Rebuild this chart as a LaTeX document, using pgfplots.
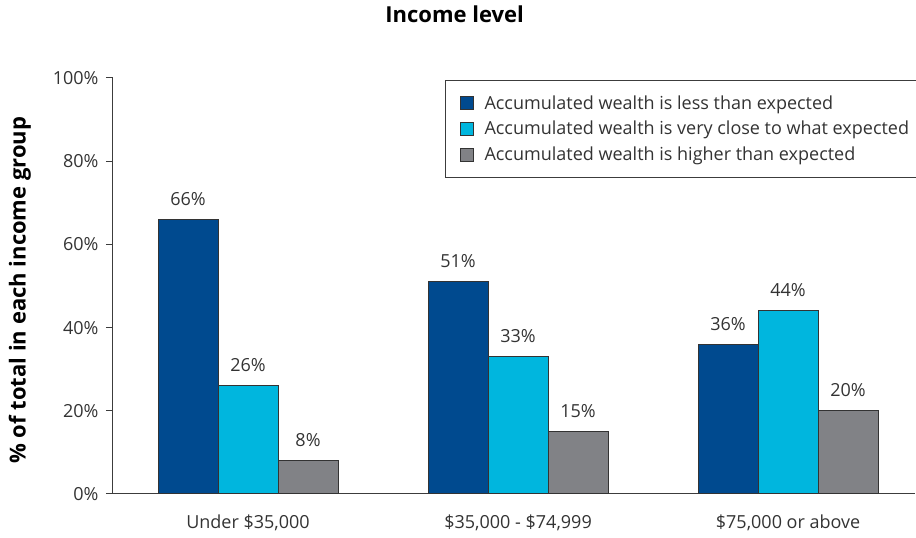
\documentclass[border=0pt]{standalone}
\usepackage{pgfplots}
\pgfplotsset{compat=1.18}
\usepackage{fontspec}
\setmainfont{Open Sans}
\definecolor{dblue}{RGB}{0,74,143}
\definecolor{cyanb}{RGB}{0,182,222}
\definecolor{greyb}{RGB}{129,130,134}
\definecolor{axgrey}{RGB}{60,60,60}
\begin{document}
\begin{tikzpicture}
\path[use as bounding box] (-113pt,-44pt) rectangle (803pt,494pt);
\begin{axis}[
  scale only axis,
  width=802pt, height=416pt,
  xmin=-0.5, xmax=2.47,
  ymin=0, ymax=100,
  axis x line=bottom, axis y line=left,
  axis line style={-, draw=axgrey, line width=1pt},
  ybar=0pt, bar width=0.2222,
  xtick={0,1,2},
  xticklabels={{Under \$35,000}, {\$35,000 - \$74,999}, {\$75,000 or above}},
  x tick style={draw=none},
  extra x ticks={-0.5,0.5,1.5},
  extra x tick labels={},
  extra x tick style={tick style={draw=axgrey, line width=1pt}, major tick length=7pt, tick align=outside},
  ytick={0,20,40,60,80,100},
  yticklabel={\pgfmathprintnumber{\tick}\%},
  y tick style={draw=axgrey, line width=1pt},
  tick align=outside,
  major tick length=7pt,
  /pgf/number format/assume math mode=true,
  ticklabel style={font=\fontsize{18}{21}\selectfont, text=black!80},
  xticklabel style={yshift=-10pt},
  yticklabel style={xshift=-4pt},
  title={\textbf{Income level}},
  title style={font=\fontsize{22}{26}\selectfont, at={(axis description cs:0.426,1.139)}, anchor=center},
  ylabel={\textbf{\% of total in each income group}},
  ylabel style={font=\fontsize{22}{26}\selectfont, at={(axis description cs:-0.116,0.49)}, anchor=center},
  nodes near coords={\pgfmathprintnumber{\pgfplotspointmeta}\%},
  every node near coord/.append style={font=\fontsize{18}{21}\selectfont, text=black!80, yshift=10pt},
  legend style={at={(axis description cs:0.414,0.995)}, anchor=north west,
    draw=axgrey, line width=1pt, font=\fontsize{18}{21}\selectfont, text=black!80,
    inner xsep=10pt, inner ysep=13pt, row sep=6.5pt, cells={anchor=west}},
  legend image code/.code={\draw[#1, draw=black!80, line width=0.8pt] (5pt,-6.5pt) rectangle (18pt,6.5pt); \path[draw=none, fill=none] (0pt,0pt) -- (27pt,0pt);},
]
\addplot[fill=dblue, draw=black!80, line width=1pt] coordinates {(0,66) (1,51) (2,36)};
\addplot[fill=cyanb, draw=black!80, line width=1pt] coordinates {(0,26) (1,33) (2,44)};
\addplot[fill=greyb, draw=black!80, line width=1pt] coordinates {(0,8) (1,15) (2,20)};
\legend{Accumulated wealth is less than expected, Accumulated wealth is very close to what expected, Accumulated wealth is higher than expected}
\end{axis}
\end{tikzpicture}
\end{document}
